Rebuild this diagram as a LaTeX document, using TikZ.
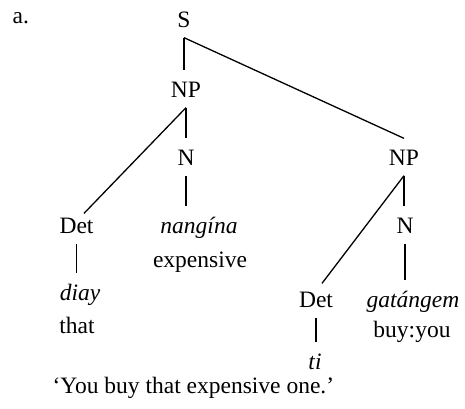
\documentclass[tikz,border=0pt]{standalone}
\usepackage{fontspec}
\setmainfont{Liberation Serif}
\usetikzlibrary{positioning}
\tikzset{
  every picture/.style={line width=1.3pt},
  word/.style={font=\fontsize{23.5}{27}\selectfont, inner sep=0pt, anchor=base},
  cat/.style={word, text height=16pt, text depth=0pt, inner ysep=10pt},
  leaf/.style={cat, font=\fontsize{23.5}{27}\selectfont\itshape},
  gloss/.style={word},
}

\begin{document}
\begin{tikzpicture}[x=1pt, y=-1pt]
  \useasboundingbox (0,0) rectangle (465,408);
  \node[word, anchor=base west] (lbl) at (12,23) {a.};
  % categories
  \node[cat] (s) at (184,27) {S};
  \node[cat] (npl) at (186,97) {NP};
  \node[cat] (nl) at (186,165) {N};
  \node[cat] (npr) at (404,165) {NP};
  \node[cat] (detl) at (76.5,233) {Det};
  \node[cat] (nr) at (405,233) {N};
  \node[cat] (detr) at (316,307) {Det};
  % words and glosses
  \node[leaf] (nang) at (199,233) {nangína};
  \node[gloss] (expn) at (200,267) {expensive};
  \node[leaf] (diay) at (80,300) {diay};
  \node[gloss] (that) at (77,333) {that};
  \node[leaf] (gat) at (413,307) {gatángem};
  \node[gloss] (buy) at (412,337) {buy:you};
  \node[leaf] (ti) at (315,369) {ti};
  \node[gloss, anchor=base west] (free) at (52,393) {‘You buy that expensive one.’};
  % branches
  \draw (s.south) -- (s.south |- npl.north);
  \draw (s.south) -- (npr.north);
  \draw (npl.south) -- (npl.south |- nl.north);
  \draw (npl.south) -- ([xshift=7.5pt, yshift=-7pt]detl.north);
  \draw (nl.south) -- (nl.south |- nang.north);
  \draw (detl.south) -- (detl.south |- diay.north);
  \draw (npr.south) -- (npr.south |- nr.north);
  \draw (npr.south) -- ([xshift=6pt, yshift=-3pt]detr.north);
  \draw (nr.south) -- (nr.south |- gat.north);
  \draw (detr.south) -- (detr.south |- ti.north);
\end{tikzpicture}
\end{document}
